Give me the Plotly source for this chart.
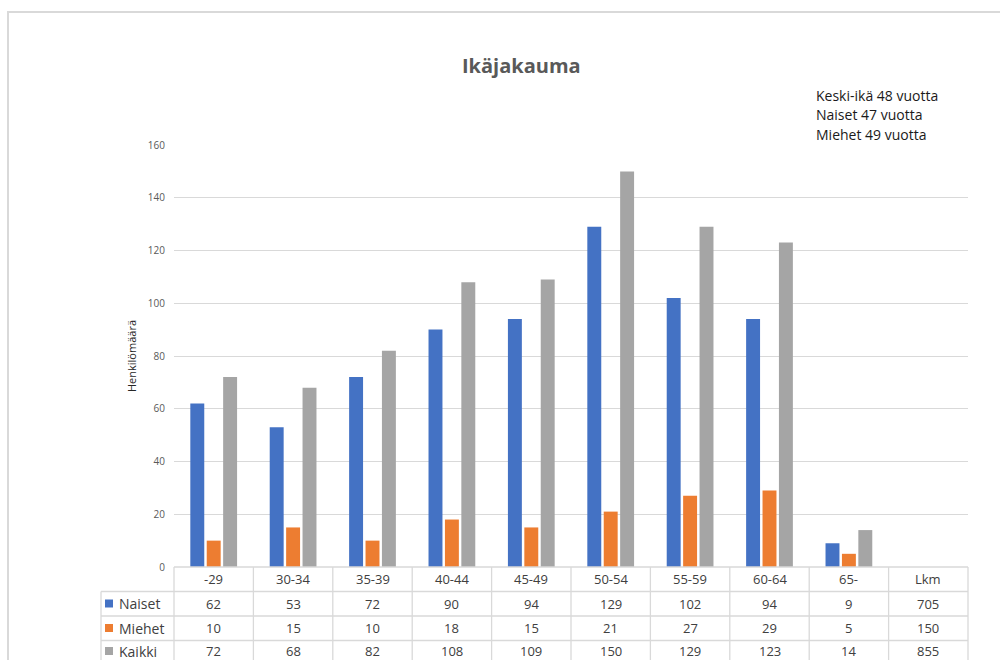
import plotly.graph_objects as go

# Age groups and head counts per group
age_groups = ["-29", "30-34", "35-39", "40-44", "45-49", "50-54", "55-59", "60-64", "65-"]
total_label = "Lkm"
naiset = [62, 53, 72, 90, 94, 129, 102, 94, 9]
miehet = [10, 15, 10, 18, 15, 21, 27, 29, 5]
kaikki = [72, 68, 82, 108, 109, 150, 129, 123, 14]

series_names = ["Naiset", "Miehet", "Kaikki"]
series_colors = ["#4472C4", "#ED7D31", "#A5A5A5"]
series_values = [naiset, miehet, kaikki]

y_ticks = [0, 20, 40, 60, 80, 100, 120, 140, 160]
info_lines = ["Keski-ikä 48 vuotta", "Naiset 47 vuotta", "Miehet 49 vuotta"]

categories = age_groups + [total_label]
n = len(categories)

W, H = 1000, 660
L, R, T, B = 174, 32, 145, 93
PW, PH = W - L - R, H - T - B


def px_x(px):
    return (px - L) / PW


def px_y(py):
    return (H - B - py) / PH


def col_x(i):
    # centre of table column i in paper units
    return (i + 0.5) / n


fig = go.Figure()
for name, color, vals in zip(series_names, series_colors, series_values):
    fig.add_trace(go.Bar(
        x=categories, y=vals + [None], name=name,
        marker=dict(color=color, line=dict(width=0)),
        showlegend=False, hoverinfo="x+y+name",
    ))

grid = "#D9D9D9"
table_line = dict(color="#D9D9D9", width=1.3)
text_col = "#404040"
font_fam = "Open Sans, Liberation Sans, sans-serif"

shapes = []
annotations = []

# Outer chart frame
shapes.append(dict(type="rect", xref="paper", yref="paper",
                   x0=px_x(8), x1=px_x(1010), y0=px_y(680), y1=px_y(12),
                   line=dict(color="#D9D9D9", width=2), layer="below"))

# Data table grid below the plot
row_edges = [567, 591.5, 616, 640.5, 666]
shapes.append(dict(type="line", xref="paper", yref="paper",
                   x0=0, x1=1, y0=px_y(row_edges[0]), y1=px_y(row_edges[0]),
                   line=table_line))
for ry in row_edges[1:]:
    shapes.append(dict(type="line", xref="paper", yref="paper",
                       x0=px_x(101), x1=1, y0=px_y(ry), y1=px_y(ry), line=table_line))
for i in range(n + 1):
    xv = i / n
    shapes.append(dict(type="line", xref="paper", yref="paper",
                       x0=xv, x1=xv, y0=px_y(row_edges[0]), y1=px_y(row_edges[-1]),
                       line=table_line))
shapes.append(dict(type="line", xref="paper", yref="paper",
                   x0=px_x(101), x1=px_x(101), y0=px_y(row_edges[1]), y1=px_y(row_edges[-1]),
                   line=table_line))

# text baselines of the table rows (last row sits at the window edge)
row_centers = [579, 603.5, 628, 651]
cell_font = dict(size=13, color=text_col, family=font_fam)

# header row: category labels
for i, c in enumerate(categories):
    annotations.append(dict(x=col_x(i), xref="paper", y=px_y(row_centers[0]), yref="paper",
                            text=c, showarrow=False, xanchor="center", yanchor="middle",
                            font=cell_font))

# value rows with legend keys
for r, (name, color, vals) in enumerate(zip(series_names, series_colors, series_values)):
    yc = row_centers[r + 1]
    shapes.append(dict(type="rect", xref="paper", yref="paper",
                       x0=px_x(105), x1=px_x(113), y0=px_y(yc + 4), y1=px_y(yc - 4),
                       fillcolor=color, line=dict(width=0)))
    annotations.append(dict(x=px_x(117), xref="paper", y=px_y(yc), yref="paper",
                            text=name, showarrow=False, xanchor="left", yanchor="middle",
                            font=dict(size=14, color=text_col, family=font_fam)))
    for i, v in enumerate(vals):
        annotations.append(dict(x=col_x(i), xref="paper", y=px_y(yc), yref="paper",
                                text=str(v), showarrow=False, xanchor="center",
                                yanchor="middle", font=cell_font))
    annotations.append(dict(x=col_x(n - 1), xref="paper", y=px_y(yc), yref="paper",
                            text=str(sum(vals)), showarrow=False, xanchor="center",
                            yanchor="middle", font=cell_font))

# Title
annotations.append(dict(x=px_x(521), xref="paper", y=px_y(65), yref="paper",
                        text="<b>Ikäjakauma</b>", showarrow=False,
                        xanchor="center", yanchor="middle",
                        font=dict(size=20, color="#595959", family=font_fam)))

# Info text in the upper right
for i, line in enumerate(info_lines):
    annotations.append(dict(x=px_x(814), xref="paper", y=px_y(95 + i * 19.5), yref="paper",
                            text=line, showarrow=False, xanchor="left", yanchor="middle",
                            font=dict(size=14, color="#1a1a1a", family=font_fam)))

# Y axis title
annotations.append(dict(x=px_x(131), xref="paper", y=px_y(356), yref="paper",
                        text="Henkilömäärä", showarrow=False, textangle=-90,
                        xanchor="center", yanchor="middle",
                        font=dict(size=11, color="#262626", family=font_fam)))

fig.update_layout(
    width=W, height=H,
    margin=dict(l=L, r=R, t=T, b=B),
    paper_bgcolor="white", plot_bgcolor="white",
    barmode="group", bargap=0.38, bargroupgap=0.15,
    shapes=shapes, annotations=annotations,
    xaxis=dict(type="category", categoryorder="array", categoryarray=categories,
               range=[-0.5, n - 0.5],
               showticklabels=False, showgrid=False, zeroline=False, showline=False,
               ticks="", fixedrange=True),
    yaxis=dict(range=[0, 160], tickvals=y_ticks, showgrid=True, gridcolor=grid,
               gridwidth=1, zeroline=False, showline=False, ticks="",
               tickfont=dict(size=10, color="#595959", family=font_fam),
               ticklabelstandoff=8, fixedrange=True),
    font=dict(family=font_fam),
)

fig.write_html("out.html")
